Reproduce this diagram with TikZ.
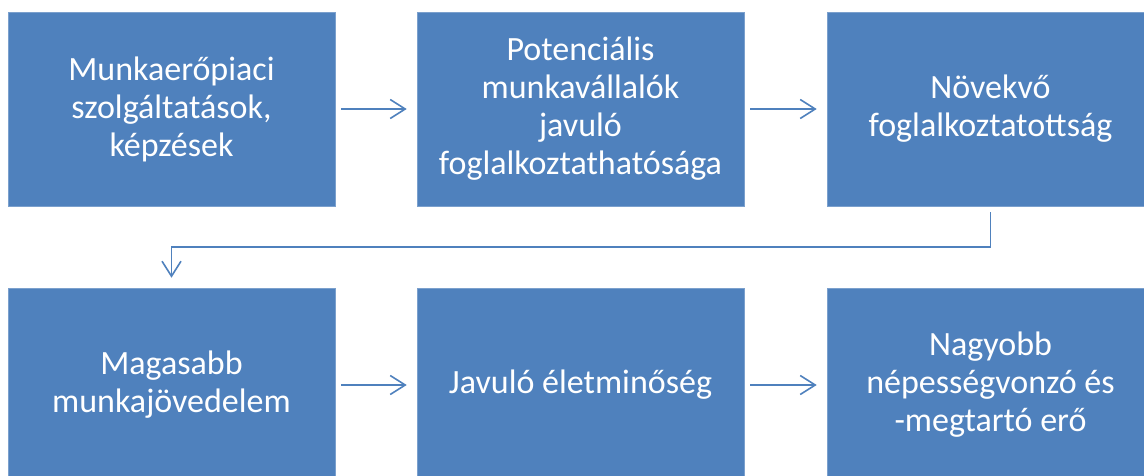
\documentclass[tikz,border=0pt]{standalone}
\usepackage{fontspec}
\setmainfont{Carlito}
\usepackage{tikz}
\usetikzlibrary{arrows.meta}

\definecolor{boxblue}{RGB}{79,129,189}

\tikzset{
    stepbox/.style={draw=boxblue!75!white, line width=0.6pt, fill=boxblue, text=white,
        minimum width=327pt, minimum height=194pt, inner sep=0pt, align=center,
        font=\fontsize{34}{38}\selectfont},
    flow/.style={draw=boxblue, line width=1.6pt,
        -{Straight Barb[length=15pt,width=19pt]}, shorten <=6pt, shorten >=10pt}
}

\begin{document}
\begin{tikzpicture}[x=1pt, y=-1pt]
        \clip (0,0) rectangle (1144,475);
        \fill[white] (0,0) rectangle (1144,475);

        \node[stepbox] (box1) at (171.5,109) {Munkaerőpiaci\\szolgáltatások,\\képzések};
        \node[stepbox] (box2) at (580.5,109) {Potenciális\\munkavállalók\\javuló\\foglalkoztathatósága};
        \node[stepbox] (box3) at (990.5,109) {Növekvő\\foglalkoztatottság};
        \node[stepbox] (box4) at (171.5,385) {Magasabb\\munkajövedelem};
        \node[stepbox] (box5) at (580.5,385) {Javuló életminőség};
        \node[stepbox] (box6) at (990.5,385) {Nagyobb\\népességvonzó és\\-megtartó erő};

        \draw[flow] (box1) -- (box2);
        \draw[flow] (box2) -- (box3);
        \draw[flow] (box3.south) -- ++(0,40.5) -| (box4.north);
        \draw[flow] (box4) -- (box5);
        \draw[flow] (box5) -- (box6);
    \end{tikzpicture}
\end{document}
